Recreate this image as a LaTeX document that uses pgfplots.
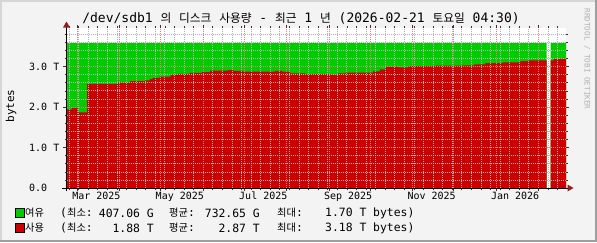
\documentclass[border=0pt]{standalone}
\usepackage{fontspec}
\setmonofont{DejaVu Sans Mono}
\newfontfamily\kr[Scale=0.9]{Noto Sans CJK KR}
\usepackage{pgfplots}
\usepackage{pgfplotstable}
\pgfplotsset{compat=1.18}
\definecolor{rrdgreen}{HTML}{00CC00}
\definecolor{rrdred}{HTML}{CC0000}
\definecolor{rrdback}{HTML}{F3F3F3}
\definecolor{mgridc}{HTML}{E08080}
\definecolor{gridc}{HTML}{B4B4B4}
\definecolor{arrowc}{HTML}{902020}
\definecolor{framedark}{HTML}{9E9E9E}
\definecolor{framelight}{HTML}{D6D6D6}

% days since 2025-02-21 04:30, used bytes (T)
\pgfplotstableread{
x y
0 1.94
4 1.97
8.4 1.87
15 2.57
37 2.60
46.5 2.64
57.4 2.66
61 2.69
63 2.72
68 2.75
76 2.80
81 2.82
90 2.84
99 2.86
105 2.90
118 2.91
122 2.89
129 2.87
152.5 2.89
157.6 2.87
163.5 2.83
174.5 2.81
193 2.80
197.9 2.83
203.7 2.85
224 2.88
229 2.93
233 2.99
242.5 2.98
250 3.01
269.6 3.02
288 3.03
298 3.05
306 3.08
318.6 3.10
331.7 3.13
337.6 3.15
350.8 3.15
}\usedA
\pgfplotstableread{
x y
353.7 3.15
356 3.18
365 3.18
}\usedB
% used + free (T)
\pgfplotstableread{
x y
0 3.58
350.8 3.58
}\totalA
\pgfplotstableread{
x y
353.7 3.58
365 3.58
}\totalB

\begin{document}
\begin{tikzpicture}[x=1pt,y=1pt]
% background and frame
\fill[rrdback] (0,0) rectangle (597,242);
\fill[framelight] (0,0) rectangle (2,242);
\fill[framelight] (0,240) rectangle (597,242);
\fill[framedark] (0,0) rectangle (597,2);
\fill[framedark] (595,0) rectangle (597,242);

\begin{axis}[
  at={(66.5pt,54pt)}, anchor=south west,
  scale only axis, width=499.5pt, height=160pt,
  xmin=0, xmax=365, ymin=0, ymax=3.95,
  axis line style={draw=none},
  axis background/.style={fill=white},
  axis on top,
  tick align=outside,
  major tick length=3pt, minor tick length=2pt,
  tick style={black!80, line width=0.5pt},
  xtick={7.81,38.81,68.81,99.81,129.81,160.81,191.81,221.81,252.81,282.81,313.81,344.81},
  xticklabels={},
  minor xtick={1.81,8.81,...,358.81},
  extra x ticks={21.81,82.81,143.81,205.81,266.81,327.81},
  extra x tick labels={Mar 2025,May 2025,Jul 2025,Sep 2025,Nov 2025,Jan 2026},
  extra x tick style={grid=none, major tick length=0pt,
     tick label style={font=\ttfamily\fontsize{10}{12}\selectfont, inner sep=0pt, yshift=-4pt}},
  ytick={0,1,2,3},
  yticklabels={0.0\hphantom{\ T},1.0 T,2.0 T,3.0 T},
  yticklabel style={font=\ttfamily\fontsize{10}{12}\selectfont, anchor=east, inner sep=0pt, xshift=-4pt},
  minor ytick={0.2,0.4,0.6,0.8,1.2,1.4,1.6,1.8,2.2,2.4,2.6,2.8,3.2,3.4,3.6,3.8},
  grid=both,
  major grid style={draw=mgridc, line width=0.6pt, dash pattern=on 1pt off 1pt},
  minor grid style={draw=gridc, line width=0.6pt, dash pattern=on 1pt off 1pt},
]
\addplot[const plot, fill=rrdgreen, draw=none] table[x=x,y=y]{\totalA} \closedcycle;
\addplot[const plot, fill=rrdgreen, draw=none] table[x=x,y=y]{\totalB} \closedcycle;
\addplot[const plot, fill=rrdred, draw=none] table[x=x,y=y]{\usedA} \closedcycle;
\addplot[const plot, fill=rrdred, draw=none] table[x=x,y=y]{\usedB} \closedcycle;
\end{axis}

% axis lines with arrows
\draw[black, line width=0.8pt] (62,54) -- (569,54);
\fill[arrowc] (567.5,50.5) -- (573.5,54) -- (567.5,57.5) -- cycle;
\draw[black, line width=0.8pt] (66.5,51) -- (66.5,216);
\fill[arrowc] (63,214.5) -- (66.5,220.5) -- (70,214.5) -- cycle;

% title
\node at (301,224) {\ttfamily\fontsize{13}{15}\selectfont /dev/sdb1 {\kr 의} {\kr 디스크} {\kr 사용량} - {\kr 최근} 1 {\kr 년} (2026-02-21 {\kr 토요일} 04:30)};

% y label
\node[rotate=90] at (11,136) {\ttfamily\fontsize{11}{13}\selectfont bytes};

% watermark
\node[rotate=-90, text=black!30] at (587,183) {\ttfamily\fontsize{7.6}{9}\selectfont RRDTOOL / TOBI OETIKER};

% legend
\begin{scope}[every node/.style={inner sep=0pt, font=\ttfamily\fontsize{11.4}{13}\selectfont}]
\draw[black, fill=rrdgreen, line width=0.6pt] (15.5,24.5) rectangle (24.5,33.5);
\node[anchor=west] at (25,29) {\kr 여유};
\node[anchor=west] at (60,29) {({\kr 최소}:};
\node[anchor=east] at (154,29) {407.06 G};
\node[anchor=west] at (169,29) {{\kr 평균}:};
\node[anchor=east] at (260,29) {732.65 G};
\node[anchor=west] at (277,29) {{\kr 최대}:};
\node[anchor=west] at (325,29) {1.70 T bytes)};

\draw[black, fill=rrdred, line width=0.6pt] (15.5,9.5) rectangle (24.5,18.5);
\node[anchor=west] at (25,14) {\kr 사용};
\node[anchor=west] at (60,14) {({\kr 최소}:};
\node[anchor=east] at (154,14) {1.88 T};
\node[anchor=west] at (169,14) {{\kr 평균}:};
\node[anchor=east] at (260,14) {2.87 T};
\node[anchor=west] at (277,14) {{\kr 최대}:};
\node[anchor=west] at (325,14) {3.18 T bytes)};
\end{scope}
\end{tikzpicture}
\end{document}
